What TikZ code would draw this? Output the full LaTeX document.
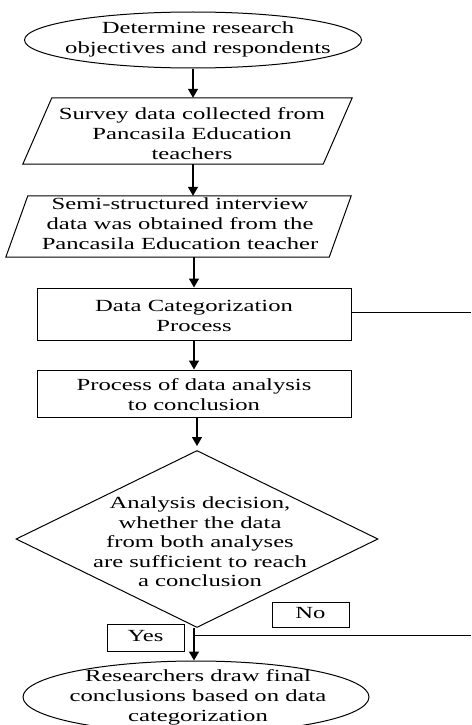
\documentclass[tikz,border=0pt]{standalone}
\usepackage{fontspec}
\setmainfont{Liberation Serif}
\usepackage{graphicx}
\usetikzlibrary{shapes.geometric,arrows.meta}
\newcommand{\wtxt}[1]{\scalebox{1.45}[1]{\begin{tabular}{@{}c@{}}#1\end{tabular}}}
\tikzset{
  shp/.style={draw, line width=1pt, inner sep=0pt},
  term/.style={shp, ellipse},
  proc/.style={shp, rectangle},
  dec/.style={shp, diamond},
  ghost/.style={rectangle, inner sep=0pt},
  txt/.style={inner sep=0pt, font=\fontsize{17}{20}\selectfont},
  arr/.style={line width=1.4pt, -{Triangle[width=10pt,length=9pt]}},
  ln/.style={line width=1pt}
}
\begin{document}
\begin{tikzpicture}[x=1pt,y=-1pt]
\useasboundingbox (0,0) rectangle (471,725);
% shapes
\node[term, minimum width=337pt, minimum height=56pt] (e1) at (193,40) {};
\node[txt] (e1t) at (198,40) {\wtxt{Determine research\\objectives and respondents}};

\node[ghost, minimum width=300pt, minimum height=66pt] (p1) at (187.5,131) {};
\draw[shp] ([xshift=14.5pt]p1.north west) -- ([xshift=14.5pt]p1.north east)
  -- ([xshift=-14.5pt]p1.south east) -- ([xshift=-14.5pt]p1.south west) -- cycle;
\node[txt] (p1t) at (192,135) {\wtxt{Survey data collected from\\Pancasila Education\\teachers}};

\node[ghost, minimum width=323pt, minimum height=61pt] (p2) at (178.5,226.5) {};
\draw[shp] ([xshift=11pt]p2.north west) -- ([xshift=11pt]p2.north east)
  -- ([xshift=-11pt]p2.south east) -- ([xshift=-11pt]p2.south west) -- cycle;
\node[txt] (p2t) at (180,225) {\wtxt{Semi-structured interview\\data was obtained from the\\Pancasila Education teacher}};

\node[proc, minimum width=314pt, minimum height=52pt] (r1) at (194,314) {};
\node[txt] (r1t) at (194,317) {\wtxt{Data Categorization\\Process}};

\node[proc, minimum width=314pt, minimum height=47pt] (r2) at (194,393.5) {};
\node[txt] (r2t) at (194,396) {\wtxt{Process of data analysis\\to conclusion}};

\node[dec, minimum width=362pt, minimum height=177pt] (d) at (197,539) {};
\node[txt, font=\fontsize{17}{19.5}\selectfont] (dt) at (200,544) {\wtxt{Analysis decision,\\whether the data\\from both analyses\\are sufficient to reach\\a conclusion}};

\node[term, minimum width=346pt, minimum height=72pt] (e2) at (196,697) {};
\node[txt] (e2t) at (198,697) {\wtxt{Researchers draw final\\conclusions based on data\\categorization}};

\node[proc, txt, draw, line width=1pt, minimum width=77pt, minimum height=27pt] (yes) at (145.5,637.5) {\wtxt{Yes}};
\node[proc, txt, draw, line width=1pt, minimum width=77pt, minimum height=25pt] (no) at (310.5,614.5) {\wtxt{No}};

% free ends at right edge
\coordinate (rx) at (471,312);
\coordinate (nx) at (471,635);

% connectors
\draw[arr] (e1.south) -- (e1.south |- p1.north);
\draw[arr] (e1.south |- p1.south) -- (e1.south |- p2.north);
\draw[arr] (r1.north |- p2.south) -- (r1.north);
\draw[arr] (r1.south) -- (r2.north);
\draw[arr, shorten >=4pt] (d.north |- r2.south) -- (d.north);
\draw[arr] ([xshift=-3pt]d.south) -- ([xshift=-3pt]d.south |- e2.north);
\draw[ln] (r1.east |- rx) -- (rx);
\draw[ln] ([xshift=-2pt]d.south |- nx) -- (nx);
\end{tikzpicture}
\end{document}
